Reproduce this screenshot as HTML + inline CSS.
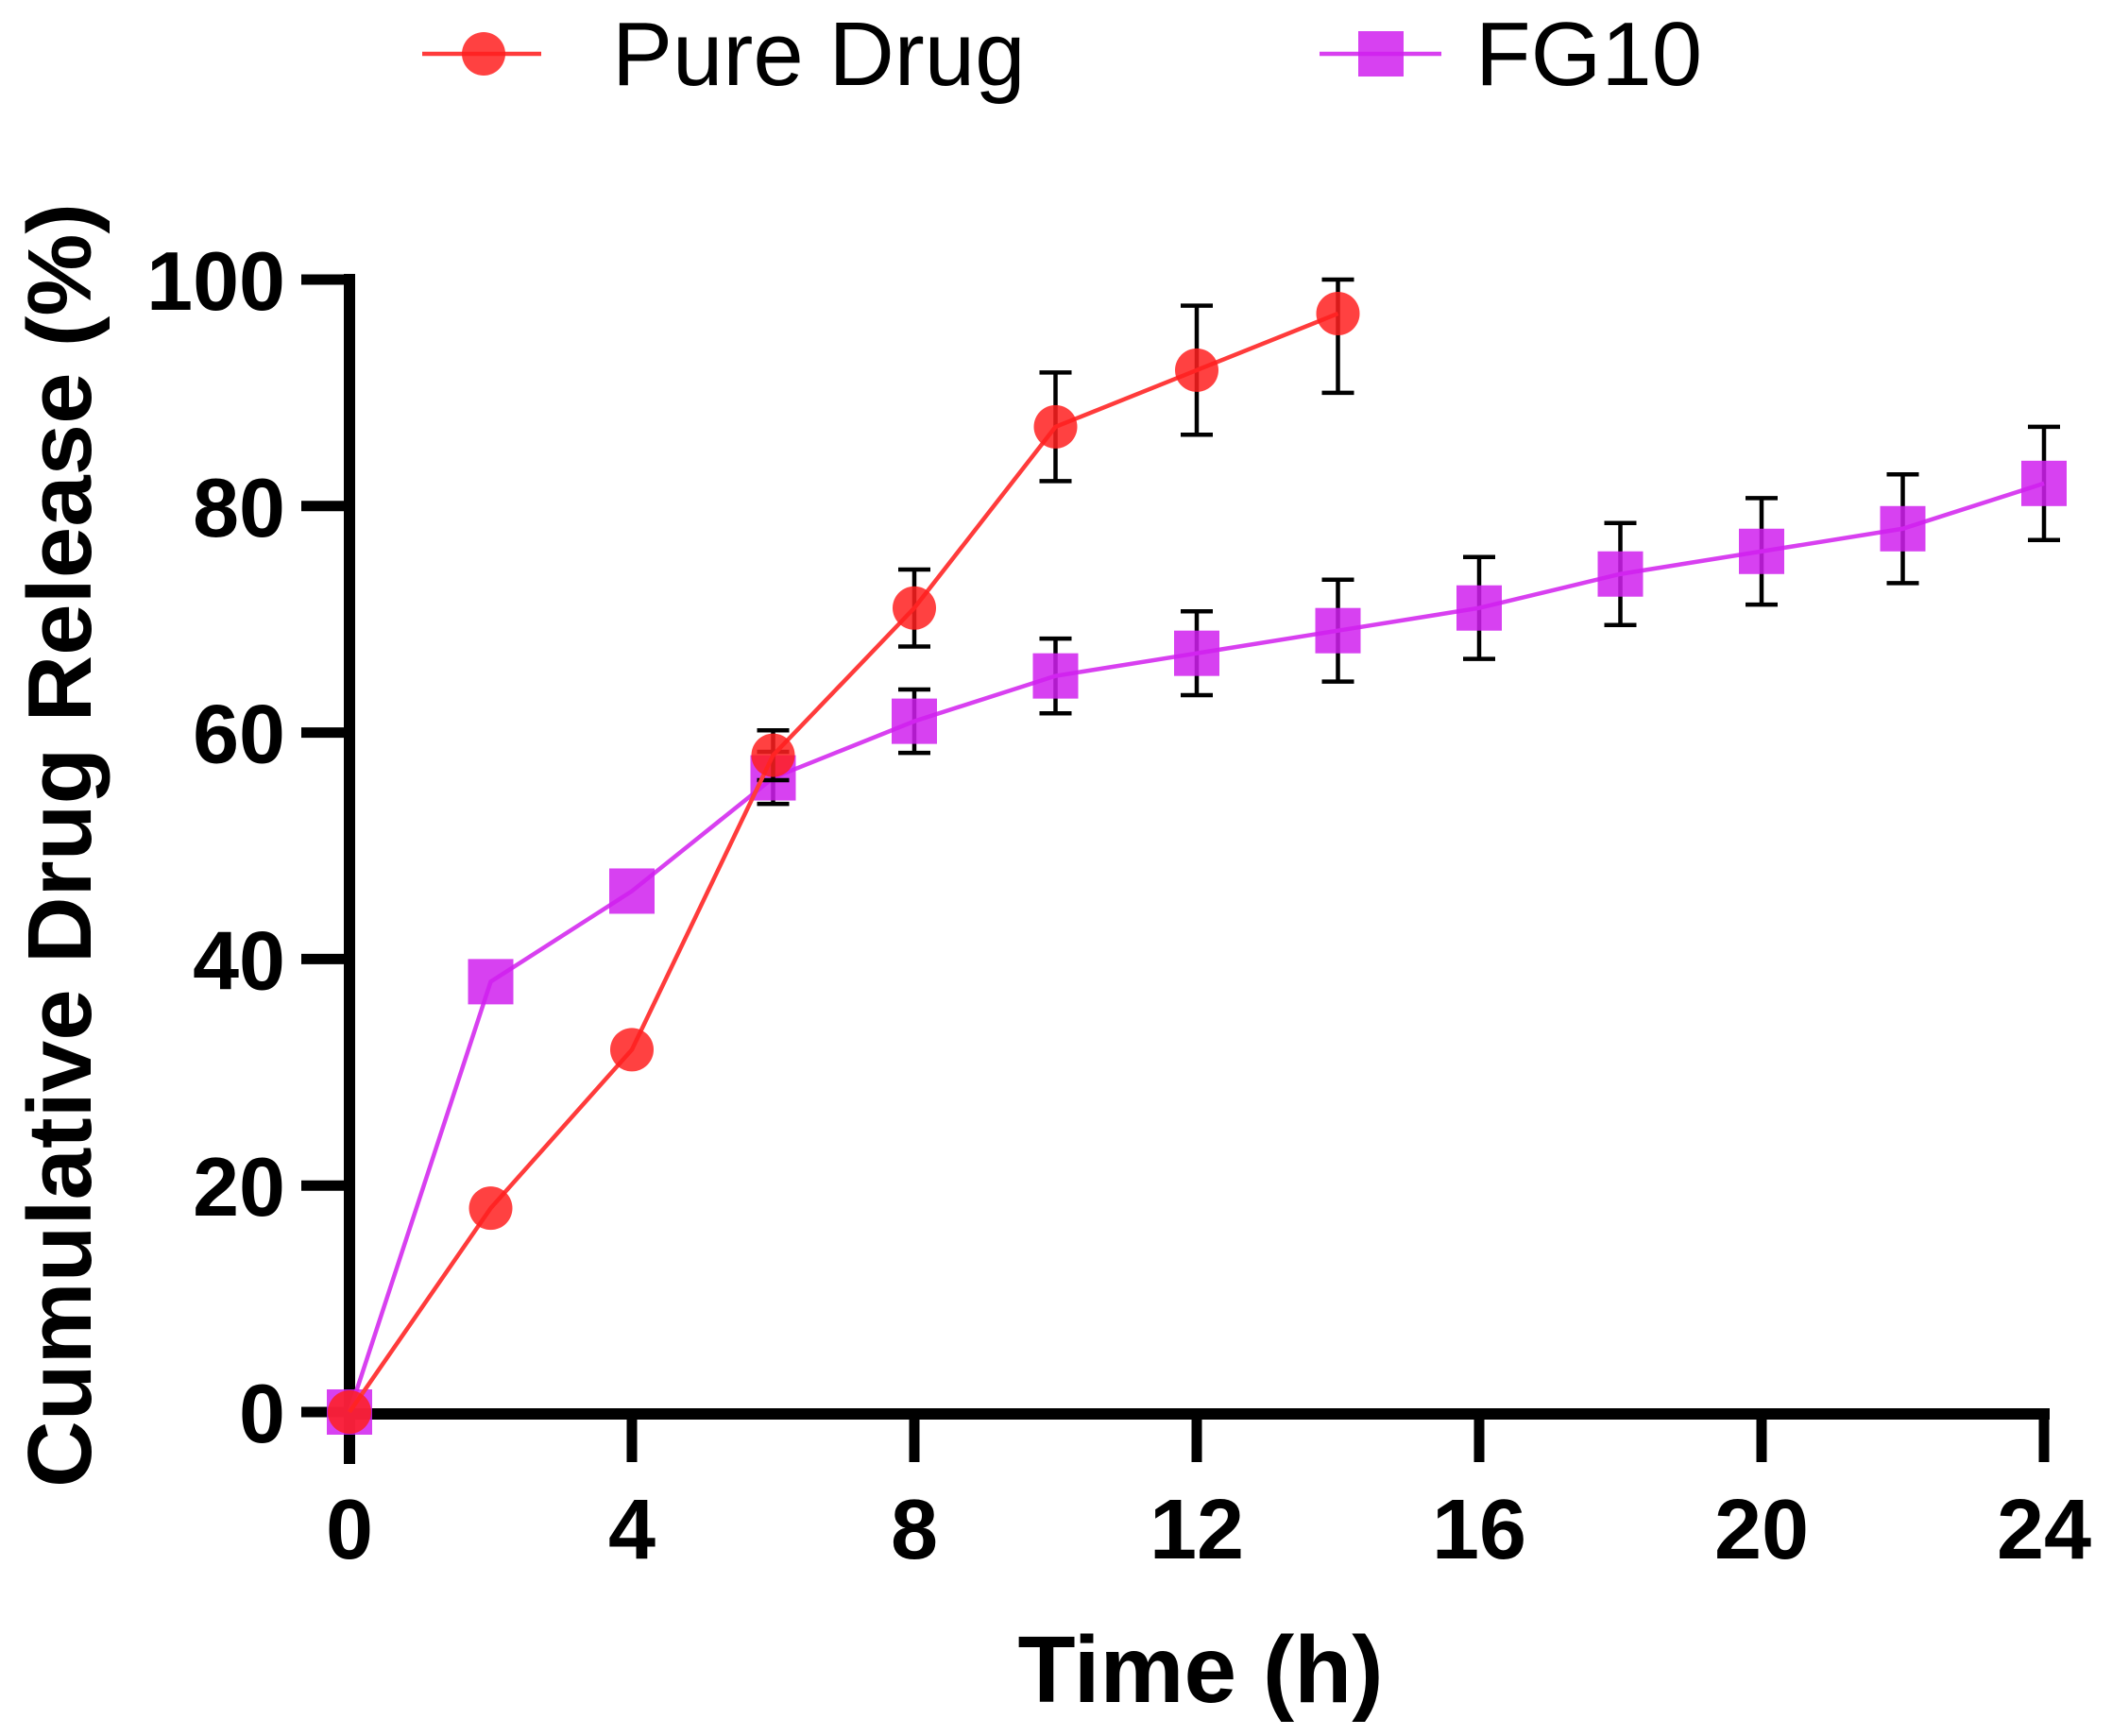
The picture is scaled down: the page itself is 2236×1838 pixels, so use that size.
<!DOCTYPE html>
<html><head><meta charset="utf-8"><style>html,body{margin:0;padding:0;background:#fff}svg{display:block}</style></head>
<body>
<svg id="chart" width="2236" height="1838" viewBox="0 0 2236 1838" xmlns="http://www.w3.org/2000/svg" font-family="Liberation Sans, sans-serif">
<g id="axes"></g>
<g id="series"></g>
<g>
  <g>
    <line x1="447" y1="57" x2="573" y2="57" stroke="#ff3b3b" stroke-width="4.5"/>
    <circle cx="512" cy="57" r="23" fill="#ff2020" fill-opacity="0.85"/>
    <text x="648" y="90" font-size="96" fill="#000">Pure Drug</text>
  </g>
  <g>
    <line x1="1397" y1="57" x2="1526" y2="57" stroke="#d840f0" stroke-width="4.5"/>
    <rect x="1438" y="33" width="48" height="48" fill="#d020ee" fill-opacity="0.85"/>
    <text x="1562" y="90" font-size="96" fill="#000">FG10</text>
  </g>
</g>
<text transform="translate(96,895) rotate(-90)" text-anchor="middle" font-size="96" font-weight="bold" textLength="1360" lengthAdjust="spacingAndGlyphs">Cumulative Drug Release (%)</text>
<text x="1271" y="1802" text-anchor="middle" font-size="100" font-weight="bold">Time (h)</text>
</svg>
<script>
const xTicks = [0,4,8,12,16,20,24];
const yTicks = [0,20,40,60,80,100];
const pureTime = [0,2,4,6,8,10,12,14];
const pureVals = [0,18,32,58,71,87,92,97];
const pureErr = [0,0,0,2.2,3.4,4.8,5.7,7];
const fgTime = [0,2,4,6,8,10,12,14,16,18,20,22,24];
const fgVals = [0,38,46,56,61,65,67,69,71,74,76,78,82];
const fgErr = [0,0,0,2.3,2.8,3.3,3.7,4.5,4.5,4.5,4.7,4.8,5];

const NS='http://www.w3.org/2000/svg';
const X = v => 370 + v*(2164-370)/24;
const Y = v => 1495 - v*(1495-296)/100;
function mk(tag, attrs, parent){const e=document.createElementNS(NS,tag);for(const k in attrs)e.setAttribute(k,attrs[k]);parent.appendChild(e);return e;}
const axes=document.getElementById('axes');
const series=document.getElementById('series');

let el=mk('line',{x1:X(0),y1:Y(100)-6,x2:X(0),y2:1550,stroke:'#000','stroke-width':12},axes);


el=mk('line',{x1:X(0)-6,y1:1497,x2:X(24)+6,y2:1497,stroke:'#000','stroke-width':12},axes);


yTicks.forEach(t=>{
  let l=mk('line',{x1:319,y1:Y(t),x2:370,y2:Y(t),stroke:'#000','stroke-width':11},axes);
  
  
  let tx=mk('text',{x:302,y:Y(t)+32,'text-anchor':'end','font-size':88,'font-weight':'bold'},axes);
  tx.textContent=t;
  
  
});
xTicks.forEach(t=>{
  let l=mk('line',{x1:X(t),y1:1497,x2:X(t),y2:1548,stroke:'#000','stroke-width':11},axes);
  
  
  let tx=mk('text',{x:X(t),y:1650,'text-anchor':'middle','font-size':90,'font-weight':'bold'},axes);
  tx.textContent=t;
  
  
});

function drawSeries(times, vals, errs, color, markerColor, shape, name){
  const g=mk('g',{},series);
  
  
  times.forEach((t,i)=>{
    if(!errs[i]) return;
    const x=X(t), y1=Y(Math.min(100,vals[i]+errs[i])), y2=Y(vals[i]-errs[i]);
    const e=mk('path',{d:`M${x},${y1}V${y2}M${x-17},${y1}H${x+17}M${x-17},${y2}H${x+17}`,stroke:'#000','stroke-width':4.5,fill:'none'},g);
    
    
  });
  const pts=times.map((t,i)=>X(t)+','+Y(vals[i])).join(' ');
  const pl=mk('polyline',{points:pts,fill:'none',stroke:color,'stroke-width':4.5},g);
  
  
  times.forEach((t,i)=>{
    let m;
    if(shape==='circle') m=mk('circle',{cx:X(t),cy:Y(vals[i]),r:23,fill:markerColor,'fill-opacity':0.85},g);
    else m=mk('rect',{x:X(t)-24,y:Y(vals[i])-24,width:48,height:48,fill:markerColor,'fill-opacity':0.85},g);
    
    
  });
}
drawSeries(fgTime,fgVals,fgErr,'#d840f0','#d020ee','square','fg10');
drawSeries(pureTime,pureVals,pureErr,'#ff3b3b','#ff2020','circle','pure-drug');
</script>
</body></html>
